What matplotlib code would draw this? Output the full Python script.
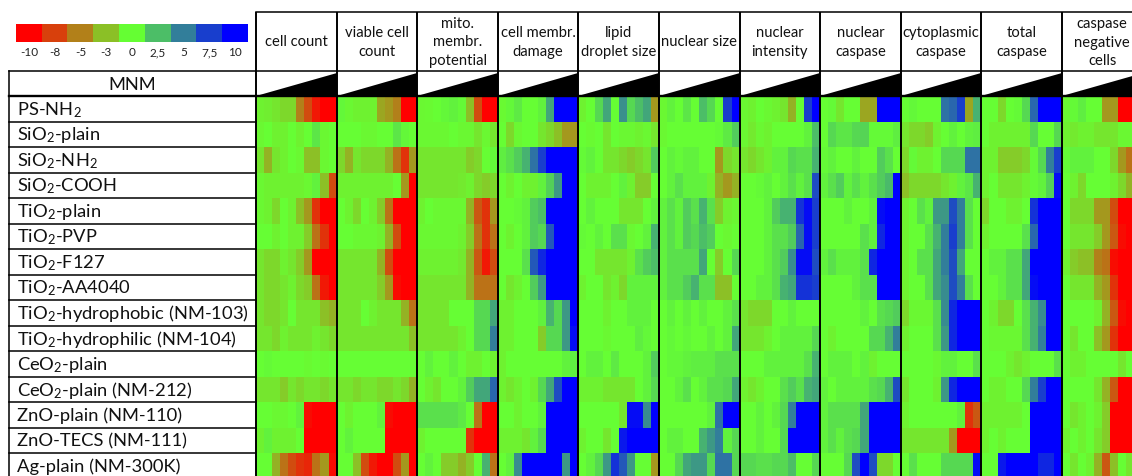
import numpy as np
import matplotlib
matplotlib.use('Agg')
import matplotlib.pyplot as plt
from matplotlib.colors import LinearSegmentedColormap
from matplotlib.patches import Polygon

plt.rcParams['font.family'] = ['Lato', 'DejaVu Sans']
plt.rcParams['mathtext.fontset'] = 'custom'
plt.rcParams['mathtext.rm'] = 'Lato'
plt.rcParams['mathtext.it'] = 'Lato:italic'
plt.rcParams['mathtext.bf'] = 'Lato:bold'

# ---------------- data ----------------
materials = ["PS-NH$_2$", "SiO$_2$-plain", "SiO$_2$-NH$_2$", "SiO$_2$-COOH",
             "TiO$_2$-plain", "TiO$_2$-PVP", "TiO$_2$-F127", "TiO$_2$-AA4040",
             "TiO$_2$-hydrophobic (NM-103)", "TiO$_2$-hydrophilic (NM-104)",
             "CeO$_2$-plain", "CeO$_2$-plain (NM-212)", "ZnO-plain (NM-110)",
             "ZnO-TECS (NM-111)", "Ag-plain (NM-300K)"]

readouts = ["cell count", "viable cell\ncount", "mito.\nmembr.\npotential",
            "cell membr.\ndamage", "lipid\ndroplet size", "nuclear size",
            "nuclear\nintensity", "nuclear\ncaspase", "cytoplasmic\ncaspase",
            "total\ncaspase", "caspase\nnegative\ncells"]

scale_values = [-10, -7.5, -5, -2.5, 0, 2.5, 5, 7.5, 10]
scale_labels = ["-10", "-8", "-5", "-3", "0", "2,5", "5", "7,5", "10"]

cell_count = [
    [-0.5, -0.7, -1, -1.5, -1.5, -5, -7, -9, -10, -10],
    [-0.3, 0, -0.5, -0.5, 0, -0.5, 0, 1, -0.3, 0],
    [-1, -3, -1, -0.5, 0, -0.3, -2.5, -2.5, -0.3, 0],
    [-0.3, -0.5, -0.5, -0.5, -0.5, -0.5, -0.3, 0.5, -2.5, -7],
    [-0.3, -0.5, -1.5, 0, -0.5, -2.5, -4, -8, -10, -10],
    [0, 0, -0.5, 0, -0.5, -0.5, -2, -5.5, -8, -10],
    [-1, -1.5, -1.5, -0.5, -1, -2, -4, -10, -10, -10],
    [-1, -1.5, -1.5, -1, -0.5, -1.5, -2, -5.5, -9, -10],
    [-1, -1.5, -1.5, -1, 0, -1, -1, -1, -2.5, -3],
    [-1, -1, -1.5, -0.5, -1, -1, -1, -0.5, -1, -1.5],
    [0, 0.2, 0, 0, 0, 0, -0.2, 0, -0.2, 0],
    [-1, -1, -1, -2, -1, -1.5, -1, -1, -1.5, -1],
    [0, 0, -0.3, -0.3, 0, 0.5, -9.5, -10, -10, -10],
    [-0.5, 0.5, -0.5, -0.5, -0.5, 0, -10, -10, -10, -10],
    [0, 0, -3, -5.5, -7, -8, -8.5, -5.5, -4, -9.5],
]
viable_cell_count = [
    [0.3, -0.3, -0.5, -0.5, -0.5, -3.5, -4, -5, -10, -10],
    [0, 0, 0, -0.3, -0.3, 0, 0, 1, 0.3, 0],
    [-1.5, -3, -1, -1.5, -1.5, -1.5, -3, -5.5, -8, -4],
    [-0.5, -0.5, -0.5, -0.5, -0.5, -0.5, -0.5, 0, -4, -10],
    [0, -0.5, -1.5, 0, -0.5, -2, -5.5, -10, -10, -10],
    [0, 0, -0.3, -0.3, -0.3, -0.5, -3, -7, -10, -10],
    [-1, -1, -1, -1, -1, -3, -7, -10, -10, -10],
    [-1, -1, -1, -1, -1, -2, -4, -9.5, -10, -10],
    [-1, -1, -1, 0, -0.5, -1, -1, -1, -3, -5.5],
    [-1, -1, -1, -1, -1, -1, -1, -1, -1, -2.5],
    [0, 0, 0, 0, 0, 0, 0, 0, 0, 0],
    [-1, -1, -1.5, -1, -1, -1.5, -1.5, -1, -1.5, -3],
    [0, -0.5, 0, 0, 0, 0.5, -9.5, -10, -10, -10],
    [0, 0.5, 0, 0, 0, 0, -10, -10, -10, -10],
    [0, 0, -2.5, -7, -9, -10, -10, -7, -4, -10],
]
mito_potential = [
    [-0.3, -0.2, 0, 0.3, 0.5, 0.2, -2.5, -7, -10, -10],
    [-0.3, -0.3, -0.3, -0.3, 0, -0.3, -0.3, -1, -0.3, -1],
    [-1, -1, -1, -1, -1, -1, -2, -1.5, 0, 0.3],
    [-1, -1, -1, -1, -1, -0.8, -0.5, -1.5, -2, -1.5],
    [-0.5, 0, -0.3, -0.3, -0.3, -0.3, -3, -6.5, -8, -4],
    [-0.3, -0.3, -0.3, -0.3, -0.3, -0.5, -2, -5.5, -8, -5.5],
    [-0.5, -0.5, -0.5, -0.5, -0.5, -0.8, -3, -6.5, -9, -7],
    [-1, -1, -1, -1, -1, -1, -3, -5.5, -5.5, -5.5],
    [-1, -1, -1, -1, 0, 0, 0, 1.5, 1.5, 3.5],
    [-1, -1, -1, -1, -1, -0.5, 0, 1.5, 1.5, 5],
    [0, 0.5, 0, 0, 0.5, 0, -0.5, -0.5, 0, -0.5],
    [0, -0.5, -1, 0, 0, 0.5, 2, 3.5, 3.5, 6],
    [1.2, 1.2, 1.2, 1.2, 1.2, 0.8, 0, -5.5, -10, -10],
    [-0.5, 0, 0, 0, 0, 0, -8, -10, -10, -10],
    [0, 0.5, 0, -2, -2, -3, -2, 0, 3, -5.5],
]
membrane_damage = [
    [-0.2, 0.3, 0.8, 0, 0, 0.5, 3.5, 10, 10, 10],
    [0, -1.5, -0.3, 0, 0, -1, -1.5, -2.5, -4, -4],
    [0.7, 1.2, 2, 3, 5.5, 7.5, 10, 10, 10, 10],
    [0, -0.5, 0, -0.5, -0.5, 0.5, 1.8, 4, 10, 10],
    [0, 0, 0.2, 0.5, 2, 2.5, 10, 10, 10, 10],
    [0, -0.5, 0, 0.5, 2, 1.5, 6.5, 10, 10, 10],
    [0, 0, 0, 1.2, 6.5, 8.5, 10, 10, 10, 10],
    [0, -1, -0.5, 0, 2, 4, 10, 10, 10, 10],
    [-0.5, -0.5, 0, 0, 0, 0.5, 3, 1.5, 4, 10],
    [-0.5, -0.5, 0, 0, 0, -2, 1.5, 1.5, 4, 9.5],
    [-0.5, 0, 0, 0, 0, 0, 0, 0, 0.5, 0.7],
    [-0.5, -1, -0.5, 0, -0.5, 1.5, 3.5, 7, 10, 10],
    [0, 0, -0.5, 0, 0, 0.5, 10, 10, 10, 10],
    [-0.5, -0.5, -0.5, -1, 0.5, 1.5, 10, 10, 10, 10],
    [0, 0.5, 4.5, 10, 10, 10, 10, 10, 4, 10],
]
lipid_droplet_size = [
    [-0.5, 0, 1.5, 3.5, 0, 4.3, 1.5, 2.5, 3.5, -4],
    [0, -0.2, 0, -1, 0, -0.3, -0.3, -0.5, -0.3, -1],
    [0.2, 0.5, 0, -1, -1, -1.5, -2, -1.5, -1, 2],
    [0, -0.5, -0.5, -0.5, 0, 0.5, -0.5, -2, -2, 0],
    [0, 0.5, 0, 0, 0, -1, -1, -1, 0, 0.5],
    [0.2, 0, 0.5, 0, 1.2, 1.2, -0.3, 0, 0.5, 3],
    [0, 0, -1, -1, -1, -1, -0.5, 1.2, 2, 2.5],
    [-0.5, 0, 0, -1, -0.5, -1.5, 0.5, 0.5, 0.5, 0.5],
    [0, 0, 0, -0.5, 0, 0, 0.5, 0.5, 0.5, 0],
    [0, 0, 0, -0.3, 0, 0, 0, 0.7, 0.3, 0],
    [0, 0.5, 0.5, 0, 0.8, 0, 0, 0, 0.5, 2],
    [-0.5, -0.5, -0.5, -1, -1, -1, -1, 0, 0.5, 1.5],
    [0, 0, 0, 0, 0, -1, 9.5, 9.5, 4.5, 10],
    [-0.5, 0, 0, -1, 0, 9, 10, 10, 10, 10],
    [0, 0.5, 1.5, 4, 8, 6.5, 4, 0, 0, -4],
]
nuclear_size = [
    [-0.3, 0.5, 0, 1, 0, 2.5, 1.5, 0, 7.5, 10],
    [-0.3, 0, 0, 0, 0, 0, 0, 0.2, 0.8, 2],
    [0, 0.5, 0.2, 0.5, 0.5, 0, 0, -4, -1.5, -1],
    [0, 0.5, 1.2, 0.5, 0.5, 0.5, -0.5, -3, -4, -3],
    [0.5, 1.2, 0.5, 2, 1.2, 3, 1.2, -2, -0.5, -0.3],
    [0.5, 1.2, 0.5, 2, 1.5, 2.5, 2, 0, -0.3, 0],
    [0.5, 1.2, 1.2, 1.2, 1.2, 3.5, 0, -2, 0, 1.5],
    [0.5, 1.2, 1.2, 2, 3, 1.2, 1.2, -2.5, -2.5, 0],
    [0, 0.5, 0, 0.5, 0, 0.5, 0, 0, 0.5, 1.2],
    [0, 0.3, 0, 0.3, 0, 0, 0.5, 0, 0.5, 3.5],
    [0, 0.3, 0.3, 0.5, 0.7, 0.7, 0.7, 1.2, 1.2, 1.2],
    [0, 0, 0.5, 1.2, 0, 0.5, 1.2, 1.2, 1.5, 3.5],
    [0, 0, 0, 0, 0, 0, 0.5, 5.5, 10, 10],
    [0, 0.5, 0.5, 0, 0, 3, 4, 5, 0.5, 1.5],
    [0, 0, 1.5, 3.5, 4, 4, 1.5, 5.5, 5.5, 1.5],
]
nuclear_intensity = [
    [-0.3, -0.5, 0, -0.3, -0.5, -1, -3, 0, 7.5, 10],
    [-0.3, -0.8, -0.3, -0.5, 0, 0, 0, 0, 0.5, 2.5],
    [-1, -1.5, -1, -0.5, 0.5, 0.5, 1.5, 1.2, 1.2, 3],
    [0, 0, 0.2, 0.5, 0, 0.5, 1.2, 0.5, 1.2, 7],
    [0, 0, 0, 0.5, 2, 3, 3, 8, 9.5, 7.5],
    [0, 0, 0, 0.5, 1.2, 1.2, 2, 6, 9.5, 7.5],
    [0, 0, 0, 0.5, 1.2, 2, 4.5, 9.5, 9.5, 7],
    [0, 0, 0.5, 0.5, 1.2, 3, 3.5, 8, 8, 7.5],
    [-1, -1.5, -1.5, -1.5, 0, 0, 0.5, 0, 0, 0],
    [-1, -1, -1, -0.5, 0, 0.5, 0.5, 0.5, 0.5, 1.5],
    [0, 0, 0, 0.5, 0.5, 0.5, 0.5, 0.5, 1.2, 3],
    [-0.5, -1, -0.5, 0, 0, 1.2, 2, 1.2, 3, 3.5],
    [0, 0, 0.5, 0, 0.5, 1.5, 5, 10, 10, 10],
    [0, 0, 0.5, 0, 0, 1.5, 10, 10, 10, 10],
    [1.5, 1.5, 1.2, 1.2, 1.5, 1.5, 2.5, 0, 0, 1.5],
]
nuclear_caspase = [
    [0, 0.2, -1, 0, 0, -3.5, -3.5, 10, 10, 10],
    [0, 1.5, 1, 1, 1.5, 1.7, 0.2, 0.2, 0.2, 0.7],
    [0.2, 0.5, 0, 0, 0.5, 0, 0, 2, 1.2, 0],
    [0.5, 1.2, 2, 0.5, 1.2, 0.5, 1.2, 2, 2.7, 10],
    [0, 0, 0, 0.5, 0, 0, 0.5, 9.5, 10, 10],
    [0, 0, 0, 0, 0, 1.2, 0.5, 8.5, 10, 10],
    [0.5, 1.2, 0.5, 0.5, 0.5, 1.2, 8.5, 10, 10, 10],
    [0, 0, 0, 0, 0.5, 1.2, 1.2, 10, 10, 10],
    [0, 0, 0, 0, 0, 0.5, 0, 1.2, 1.5, 2],
    [0, -0.5, 0, 0, 0, 0, 1.5, 1.5, 3, 5],
    [0, 0.5, 0.5, 0.5, 0, 0.5, -0.5, 0, 0, 0],
    [0.5, 0, 0.5, 0.5, 0.5, 0.5, 1.2, 1.5, 3, 7],
    [0.5, 1.2, 1.2, 1.2, 1.2, 3.5, 10, 10, 10, 10],
    [0.5, 1.2, 0.5, 1.2, 1.5, 3.5, 10, 10, 10, 10],
    [0, 0, 0, 1.5, 7, 10, 7, -1.5, -1.5, 0],
]
cytoplasmic_caspase = [
    [0, 0.3, 0, 0, 0, 5.5, 6, 7.5, -3.5, 3],
    [-1, -1.5, -1.5, -2, -0.5, 0, 0.5, 0, 0.5, 0.7],
    [-1.5, 0.2, -0.5, -0.5, 0, 1.5, 1.5, 1.5, 5.5, 5.5],
    [-2.5, -1.5, -1.5, -1.5, -1.5, -1, -0.5, 0.5, 1, 3],
    [-0.5, 0, 1.2, 0.5, 4, 4, 7, 5, 1.2, 0],
    [-0.5, 0, 0, 1.2, 3, 5, 7.5, 5, 1.2, 0],
    [-0.5, 0, 1.2, 1.2, 3.5, 5, 7, 3.5, 0, 0],
    [-0.5, 0, 0, 1.2, 3.5, 4.5, 7, 5, 1.2, 0],
    [-1.5, -0.3, -0.3, -0.3, 1.2, 4.5, 8.5, 10, 10, 10],
    [-0.5, 0, 0, 0, 1.2, 4, 8.5, 10, 10, 10],
    [0, 0, 0, 0, -0.3, 0.5, 0.5, 0, 0, 1.2],
    [-1, 0, 0, 0, -0.5, 4, 8.5, 10, 10, 10],
    [-0.5, 0, 0, 0, 0, 0, 0, 0.5, -8, -6.5],
    [-1, -1, -1, -1, -1, -1, -4, -10, -10, -10],
    [0, 1.2, 0, 0, 0, 1.5, 1.5, 1.5, 1.5, 9.5],
]
total_caspase = [
    [0, 0, -1.5, 0, 0.2, 1.5, 6, 10, 10, 10],
    [0, -0.5, -0.5, -0.5, -0.5, -0.5, 1.5, 0, 0, 1.5],
    [-0.5, -0.5, -2, -2, -2, -1.5, 0.2, 1.5, 5, 7.5],
    [-0.5, 0, -1, -1, -1, -0.5, 0.2, 0.5, 1.8, 9.5],
    [-1.5, 0, 0, -0.5, -0.5, 0, 8, 10, 10, 10],
    [-0.5, 0, 0, 0, 0, 1.2, 6, 10, 10, 10],
    [0, 0.5, 0.5, 1.2, 1.2, 3.5, 10, 10, 10, 10],
    [0, 0, 0.5, 1.2, 1.2, 3.5, 9.5, 10, 10, 10],
    [0, -0.5, -1.5, -1.5, 0, 1.2, 3, 4.5, 10, 10],
    [0, -0.3, -0.3, -0.3, -0.3, 1.2, 3, 5, 10, 10],
    [0, 0, 0, -0.5, -1, -0.5, 0, 0, 0, 1.2],
    [0, -0.5, -0.5, 0, 0, 1.5, 5, 7.5, 10, 10],
    [-0.5, -0.5, -0.5, -0.5, -0.5, 0, 10, 10, 10, 10],
    [-0.5, 0, -0.5, 0, 0, 0, 10, 10, 10, 10],
    [0, 0, 9, 10, 10, 10, 10, 8.5, 8.5, 10],
]
caspase_negative = [
    [-0.3, 0.2, 0.7, 0, 0, -4, -4, -10, -10, -10],
    [-0.5, -0.8, -0.5, -0.5, -1, -1, -1, -0.3, -0.3, -0.3],
    [0.2, 0.5, 0.5, 0.5, 0, 0, -1.5, -4, -5.5, -5.5],
    [0, -0.5, -1.5, 0, 0, 0, -0.5, -1.5, -3, -3],
    [0, -1.5, -1.5, -1.5, -4, -4, -7, -10, -10, -10],
    [0, -1, -1, -1, -2, -4, -6.5, -9.5, -10, -10],
    [-0.5, -2, -2.5, -2.5, -5, -5.5, -9.5, -10, -10, -10],
    [0, -1, -1, -1, -3, -4, -8, -10, -10, -10],
    [0, 0, 0, 0, -0.5, -3, -6.5, -9.5, -10, -10],
    [0, -1, 0, 0, -2.5, -4, -8, -10, -10, -10],
    [0, -0.5, -0.5, 0, 0, 0, 0, -1, 0, 0],
    [0, 0, 0, 0, -1, -3, -6.5, -10, -10, -10],
    [0, -1, -0.5, 0, -0.5, -2, -10, -10, -10, -10],
    [-0.5, 0, -0.5, 0, -1, -2, -10, -10, -10, -10],
    [0, -1, 0, -0.5, -3, -6.5, -2.5, 0, -1, -1],
]

groups = [cell_count, viable_cell_count, mito_potential, membrane_damage,
          lipid_droplet_size, nuclear_size, nuclear_intensity, nuclear_caspase,
          cytoplasmic_caspase, total_caspase, caspase_negative]

data = np.hstack([np.array(g, dtype=float) for g in groups])

cmap = LinearSegmentedColormap.from_list(
    "rgb_scale", [(0.0, "#ff0000"), (0.5, "#66ff33"), (1.0, "#0000ff")])

# ---------------- layout (pixels) ----------------
W, H = 1132, 477
X0, GW = 256, 80.6          # heatmap left edge, group width
Y0, RH = 97, 25.5           # heatmap top, row height
HDR_TOP, HDR_BOT = 13, 72   # header boxes
TAB_L = 9                   # label table left edge
n_rows = len(materials)
n_groups = len(groups)
n_conc = len(groups[0][0])

fig = plt.figure(figsize=(W / 100, H / 100), dpi=100)

# heatmap
ax_h = fig.add_axes([X0 / W, (H - (Y0 + RH * n_rows)) / H,
                     GW * n_groups / W, RH * n_rows / H], zorder=1)
ax_h.pcolormesh(np.arange(n_groups * n_conc + 1), np.arange(n_rows + 1), data,
                cmap=cmap, vmin=-10, vmax=10, shading='flat')
ax_h.set_xlim(0, n_groups * n_conc)
ax_h.set_ylim(n_rows, 0)
ax_h.axis('off')

# colour scale
CB_L, CB_R, CB_T, CB_B = 16, 248, 25, 43
ax_c = fig.add_axes([CB_L / W, 1 - CB_B / H, (CB_R - CB_L) / W, (CB_B - CB_T) / H], zorder=1)
ax_c.imshow(np.array([scale_values]), cmap=cmap, vmin=-10, vmax=10, aspect='auto',
            interpolation='nearest')
ax_c.axis('off')

# overlay for the table structure
ax = fig.add_axes([0, 0, 1, 1], zorder=3)
ax.set_xlim(0, W)
ax.set_ylim(H, 0)
ax.axis('off')
ax.patch.set_alpha(0)

lw = 1.1
xs = [X0 + GW * g for g in range(n_groups + 1)]
for x in xs:
    ax.plot([x, x], [HDR_TOP, H], color='black', lw=lw + 0.3, solid_capstyle='butt')
ax.plot([X0, W], [HDR_TOP, HDR_TOP], color='black', lw=lw)
ax.plot([TAB_L, W], [HDR_BOT, HDR_BOT], color='black', lw=lw)
ax.plot([TAB_L, W], [Y0, Y0], color='black', lw=lw + 0.6)
ax.plot([TAB_L, TAB_L], [HDR_BOT, H], color='black', lw=lw)
for k in range(1, n_rows + 1):
    y = Y0 + RH * k
    ax.plot([TAB_L, X0], [y, y], color='black', lw=lw)

# concentration wedges
for g in range(n_groups):
    xl, xr = xs[g], xs[g + 1]
    ax.add_patch(Polygon([(xl, Y0), (xr, Y0), (xr, HDR_BOT + 1.5)], closed=True,
                         fc='black', ec='none'))

# header texts
for g, name in enumerate(readouts):
    ax.text((xs[g] + xs[g + 1]) / 2, (HDR_TOP + HDR_BOT) / 2, name,
            ha='center', va='center', multialignment='center',
            fontsize=10.6, linespacing=1.42, color='#111111')

# row labels
ax.text((TAB_L + X0) / 2, (HDR_BOT + Y0) / 2, "MNM", ha='center', va='center',
        fontsize=13.2, color='#111111')
for k, name in enumerate(materials):
    ax.text(17, Y0 + RH * (k + 0.5), name, ha='left', va='center',
            fontsize=13.2, color='#111111')

# colour-scale labels
bw = (CB_R - CB_L) / len(scale_values)
for i, lab in enumerate(scale_labels):
    ax.text(CB_L + bw * (i + 0.5), 53, lab, ha='center', va='center',
            fontsize=8.5, color='#222222')

fig.savefig("out.png", dpi=100)
